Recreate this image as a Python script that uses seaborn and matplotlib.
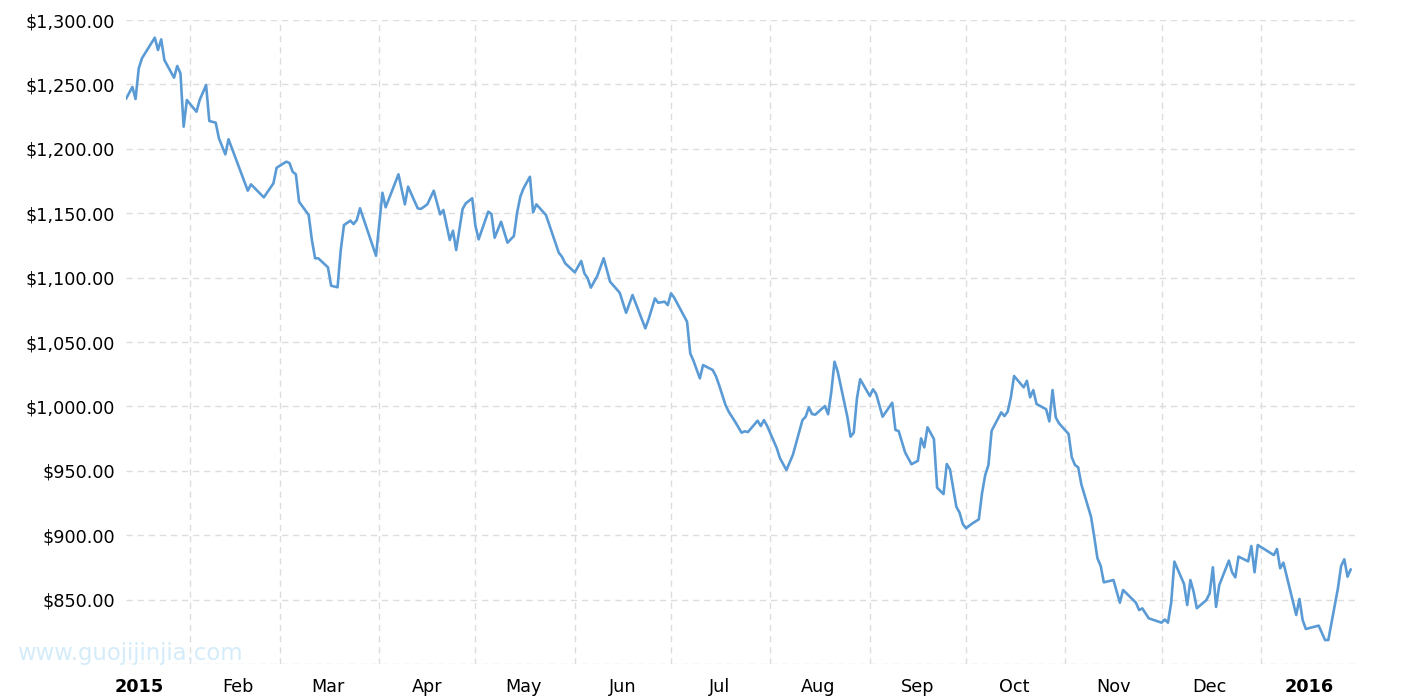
import pandas as pd
import seaborn as sns
import matplotlib
matplotlib.use('Agg')
import matplotlib.pyplot as plt

# 2015 ~ 2016.01 price
dates = ['2015-01-12', '2015-01-14', '2015-01-15', '2015-01-16', '2015-01-17', '2015-01-21',
         '2015-01-22', '2015-01-23', '2015-01-24', '2015-01-27', '2015-01-28', '2015-01-29',
         '2015-01-30', '2015-01-31', '2015-02-03', '2015-02-04', '2015-02-06', '2015-02-07',
         '2015-02-09', '2015-02-10', '2015-02-12', '2015-02-13', '2015-02-19', '2015-02-20',
         '2015-02-24', '2015-02-27', '2015-02-28', '2015-03-03', '2015-03-04', '2015-03-05',
         '2015-03-06', '2015-03-07', '2015-03-10', '2015-03-11', '2015-03-12', '2015-03-13',
         '2015-03-16', '2015-03-17', '2015-03-19', '2015-03-20', '2015-03-21', '2015-03-23',
         '2015-03-24', '2015-03-25', '2015-03-26', '2015-03-31', '2015-04-02', '2015-04-03',
         '2015-04-07', '2015-04-09', '2015-04-10', '2015-04-13', '2015-04-14', '2015-04-16',
         '2015-04-18', '2015-04-20', '2015-04-21', '2015-04-23', '2015-04-24', '2015-04-25',
         '2015-04-27', '2015-04-28', '2015-04-30', '2015-05-01', '2015-05-02', '2015-05-05',
         '2015-05-06', '2015-05-07', '2015-05-09', '2015-05-11', '2015-05-13', '2015-05-14',
         '2015-05-15', '2015-05-16', '2015-05-18', '2015-05-19', '2015-05-20', '2015-05-23',
         '2015-05-27', '2015-05-28', '2015-05-29', '2015-06-01', '2015-06-03', '2015-06-04',
         '2015-06-05', '2015-06-06', '2015-06-08', '2015-06-10', '2015-06-12', '2015-06-15',
         '2015-06-17', '2015-06-19', '2015-06-23', '2015-06-24', '2015-06-26', '2015-06-27',
         '2015-06-29', '2015-06-30', '2015-07-01', '2015-07-02', '2015-07-06', '2015-07-07',
         '2015-07-08', '2015-07-10', '2015-07-11', '2015-07-14', '2015-07-15', '2015-07-16',
         '2015-07-18', '2015-07-19', '2015-07-21', '2015-07-23', '2015-07-24', '2015-07-25',
         '2015-07-28', '2015-07-29', '2015-07-30', '2015-07-31', '2015-08-03', '2015-08-04',
         '2015-08-06', '2015-08-08', '2015-08-11', '2015-08-12', '2015-08-13', '2015-08-14',
         '2015-08-15', '2015-08-18', '2015-08-19', '2015-08-20', '2015-08-21', '2015-08-22',
         '2015-08-25', '2015-08-26', '2015-08-27', '2015-08-28', '2015-08-29', '2015-09-01',
         '2015-09-02', '2015-09-03', '2015-09-05', '2015-09-08', '2015-09-09', '2015-09-10',
         '2015-09-12', '2015-09-14', '2015-09-16', '2015-09-17', '2015-09-18', '2015-09-19',
         '2015-09-21', '2015-09-22', '2015-09-24', '2015-09-25', '2015-09-26', '2015-09-28',
         '2015-09-29', '2015-09-30', '2015-10-01', '2015-10-03', '2015-10-05', '2015-10-06',
         '2015-10-07', '2015-10-08', '2015-10-09', '2015-10-12', '2015-10-13', '2015-10-14',
         '2015-10-15', '2015-10-16', '2015-10-19', '2015-10-20', '2015-10-21', '2015-10-22',
         '2015-10-23', '2015-10-26', '2015-10-27', '2015-10-28', '2015-10-29', '2015-10-30',
         '2015-11-02', '2015-11-03', '2015-11-04', '2015-11-05', '2015-11-06', '2015-11-09',
         '2015-11-10', '2015-11-11', '2015-11-12', '2015-11-13', '2015-11-16', '2015-11-18',
         '2015-11-19', '2015-11-23', '2015-11-24', '2015-11-25', '2015-11-27', '2015-12-01',
         '2015-12-02', '2015-12-03', '2015-12-04', '2015-12-05', '2015-12-08', '2015-12-09',
         '2015-12-10', '2015-12-11', '2015-12-12', '2015-12-15', '2015-12-16', '2015-12-17',
         '2015-12-18', '2015-12-19', '2015-12-22', '2015-12-23', '2015-12-24', '2015-12-25',
         '2015-12-28', '2015-12-29', '2015-12-30', '2015-12-31', '2016-01-05', '2016-01-06',
         '2016-01-07', '2016-01-08', '2016-01-12', '2016-01-13', '2016-01-14', '2016-01-15',
         '2016-01-19', '2016-01-21', '2016-01-22', '2016-01-25', '2016-01-26', '2016-01-27',
         '2016-01-28', '2016-01-29']

prices = [1238.7, 1248.0, 1238.7, 1262.5, 1270.3, 1286.3, 1276.7, 1285.0, 1268.9, 1255.2,
          1264.3, 1258.6, 1217.2, 1237.9, 1228.8, 1237.9, 1249.5, 1221.6, 1220.3, 1208.2,
          1195.7, 1207.4, 1167.5, 1172.4, 1162.3, 1173.2, 1185.3, 1190.0, 1189.0, 1182.2,
          1180.2, 1158.9, 1148.6, 1129.2, 1115.0, 1115.0, 1108.0, 1093.7, 1092.5, 1121.4,
          1140.8, 1144.2, 1141.6, 1144.7, 1153.8, 1117.0, 1165.9, 1154.6, 1180.2, 1156.9,
          1170.6, 1153.8, 1153.3, 1156.9, 1167.5, 1149.1, 1152.5, 1129.2, 1136.4, 1121.4,
          1153.3, 1157.7, 1161.6, 1140.3, 1129.7, 1151.2, 1149.4, 1131.0, 1143.4, 1127.1,
          1132.3, 1150.4, 1162.8, 1169.3, 1178.3, 1150.7, 1156.9, 1148.6, 1119.3, 1116.2,
          1111.1, 1104.1, 1112.9, 1103.3, 1099.5, 1092.2, 1101.2, 1115.0, 1096.8, 1088.3,
          1072.7, 1086.5, 1060.6, 1067.6, 1083.9, 1080.5, 1081.3, 1078.7, 1087.8, 1084.4,
          1065.8, 1041.2, 1035.5, 1021.8, 1032.1, 1028.3, 1023.6, 1016.6, 1001.1, 995.9,
          988.1, 979.6, 980.7, 980.1, 988.9, 984.8, 989.4, 984.8, 967.5, 959.7,
          950.6, 962.3, 989.4, 992.0, 999.3, 994.1, 993.6, 1000.3, 993.9, 1011.4,
          1034.7, 1027.0, 992.0, 976.5, 979.6, 1006.3, 1021.1, 1008.1, 1013.3, 1009.6,
          992.0, 1002.9, 981.7, 980.9, 964.4, 955.1, 957.8, 975.2, 968.2, 983.8,
          974.7, 936.9, 931.9, 955.3, 951.2, 922.1, 917.5, 908.7, 905.4, 909.2,
          912.3, 932.5, 946.7, 954.5, 981.1, 995.4, 992.5, 995.9, 1007.1, 1023.6,
          1014.8, 1019.9, 1007.1, 1012.7, 1001.9, 997.8, 988.4, 1012.7, 991.5, 986.9,
          978.6, 960.5, 954.5, 952.7, 939.3, 914.4, 898.8, 882.1, 876.3, 863.4,
          865.2, 847.6, 857.5, 847.6, 841.9, 843.2, 835.5, 832.1, 834.5, 832.1,
          847.6, 879.5, 862.2, 845.8, 865.2, 856.1, 843.3, 849.7, 854.9, 875.1,
          844.3, 861.3, 880.3, 871.2, 867.3, 883.4, 879.7, 891.6, 871.2, 892.4,
          884.6, 889.3, 874.3, 878.7, 838.1, 850.5, 834.2, 827.2, 829.8, 818.6,
          818.6, 858.7, 876.1, 881.3, 867.8, 873.5]

month_starts = ['2015-02-01', '2015-03-01', '2015-04-01', '2015-05-01', '2015-06-01', '2015-07-01',
                '2015-08-01', '2015-09-01', '2015-10-01', '2015-11-01', '2015-12-01', '2016-01-01']
label_days = ['2015-01-16', '2015-02-16', '2015-03-16', '2015-04-16', '2015-05-16', '2015-06-16',
              '2015-07-16', '2015-08-16', '2015-09-16', '2015-10-16', '2015-11-16', '2015-12-16',
              '2016-01-16']
month_labels = ['2015', 'Feb', 'Mar', 'Apr', 'May', 'Jun', 'Jul', 'Aug', 'Sep', 'Oct', 'Nov', 'Dec', '2016']
y_ticks = [800, 850, 900, 950, 1000, 1050, 1100, 1150, 1200, 1250, 1300]

df = pd.DataFrame({'date': pd.to_datetime(dates), 'price': prices})

sns.set_style('white')
plt.rcParams['font.family'] = ['DejaVu Sans']

fig = plt.figure(figsize=(14.15, 7), dpi=100)
ax = fig.add_axes([0.089, 0.0514, 0.8686, 0.92])

sns.lineplot(x='date', y='price', data=df, ax=ax, color='#5b9bd5', linewidth=1.9)

ax.set_xlim(pd.Timestamp('2015-01-12'), pd.Timestamp('2016-01-30 08:00'))
ax.set_ylim(800, 1300)

# 세로 격자 = 월 시작, 라벨 = 월 중간
ax.set_xticks(pd.to_datetime(month_starts))
ax.set_xticklabels([''] * len(month_starts))
ax.set_xticks(pd.to_datetime(label_days), minor=True)
ax.set_xticklabels(month_labels, minor=True)
for t in ax.get_xticklabels(minor=True):
    if t.get_text().isdigit():
        t.set_fontweight('bold')

ax.set_yticks(y_ticks)
ax.set_yticklabels(['' if v == 800 else '${:,.2f}'.format(v) for v in y_ticks])

ax.tick_params(axis='both', which='both', length=0, labelsize=12.7, labelcolor='#000000')
ax.tick_params(axis='x', which='minor', pad=10)
ax.tick_params(axis='y', pad=8)

ax.grid(True, which='major', color='#dddddd', linestyle=(0, (4.5, 3.5)), linewidth=1)
for s in ax.spines.values():
    s.set_visible(False)
ax.set_xlabel('')
ax.set_ylabel('')

fig.text(0.012, 0.067, 'www.guojijinjia.com', fontsize=16.4, color='#d4ecfa', va='center', ha='left')

fig.savefig('out.png', dpi=100)
